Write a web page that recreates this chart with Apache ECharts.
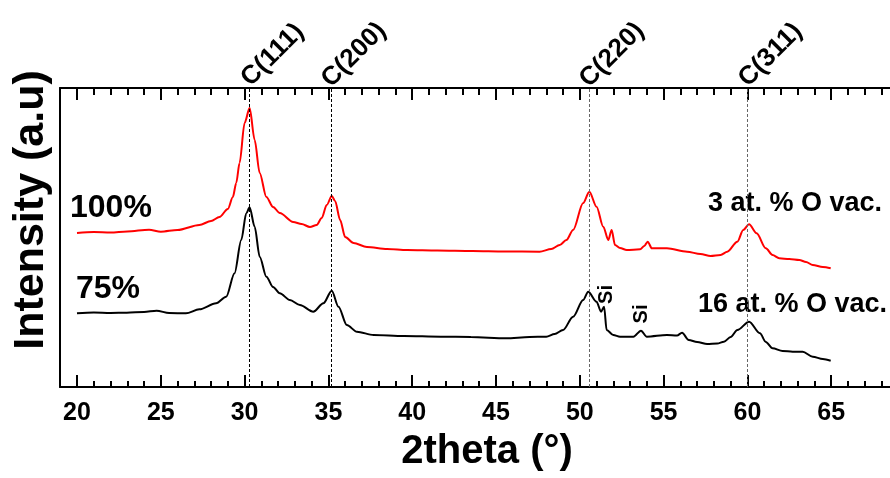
<!DOCTYPE html>
<html><head><meta charset="utf-8">
<script src="https://cdn.jsdelivr.net/npm/echarts@6/dist/echarts.min.js"></script>
<style>html,body{margin:0;padding:0;background:#fff}#c{width:890px;height:478px}</style>
</head><body><div id="c"></div>
<script>
// ---- data (intensity in arbitrary units) ----
const twoTheta100 = [20.0,21.0,22.0,23.0,24.3,25.0,26.0,27.3,28.0,28.5,29.0,29.3,29.5,29.7,30.0,30.3,30.6,30.9,31.3,31.7,32.1,32.9,33.4,33.9,34.3,34.6,34.9,35.2,35.4,35.7,36.0,36.5,37.3,38.5,39.7,41.5,43.6,45.5,47.6,48.3,48.8,49.2,49.6,50.2,50.57,51.0,51.4,51.7,51.9,52.1,52.4,52.8,53.6,53.85,54.05,54.3,55.2,56.4,57.2,57.8,58.4,58.8,59.4,59.75,60.1,60.55,61.1,61.5,61.9,62.5,63.1,63.5,63.9,64.5,64.97];
const intensity100 = [154,155,154.5,155.5,157.3,155.3,157,162,166,170,178,190,204,224,264,279,247,214,190,180,174,165,163,160,162,169,182,191,186,167,150,144,140,138,137,136.5,136,135.5,135.3,138,142,147,157,184,195.3,180.3,160.3,147,157,142,139,137,137.7,141,145.3,138.7,138.7,135.3,133,131,132,135.3,145.3,157,162.7,153.7,138.7,132,128.7,128,127,125,122,120,118.7];
const twoTheta75 = [20.0,21.0,22.0,22.97,24.0,24.75,25.5,26.5,27.3,28.3,28.9,29.4,29.8,30.1,30.3,30.6,30.9,31.3,31.7,32.1,32.7,33.3,34.1,34.7,35.2,35.6,36.1,36.7,37.7,39.5,41.7,43.5,45.6,47.0,48.0,48.5,49.0,49.6,50.2,50.5,51.0,51.27,51.45,51.6,52.0,52.4,53.2,53.65,54.0,55.2,55.8,56.1,56.5,57.0,57.6,58.2,58.6,59.0,59.4,60.1,60.75,61.1,61.5,62.1,62.7,63.3,63.9,64.5,64.97];
const intensity75 = [73.7,74.5,74,74.3,75,76.3,74,73.7,77.7,83.7,90.3,113.7,147,173.7,179.7,160.3,130.3,110.3,100,93.7,87,82,75.3,83.7,96.3,80.3,62,55.3,52,51,50.3,50,48.7,50,50.3,53,57,70.3,87,95.3,85.3,75.3,80.3,57,52,50.3,50.3,56.3,50.3,52,51.5,54.3,47,45,43,43.5,45.3,50,57,65.3,53.7,45,38.7,36,35.3,35.3,30.3,28,26.3];
const peakPositions = [30.3, 35.15, 50.55, 60.0];
const peakLabels = ['C(111)', 'C(200)', 'C(220)', 'C(311)'];
const siLabelPoints = [[51.6, 92.5], [53.7, 73]];
const siLabel = 'Si';
const sampleLabels = ['100%', '75%'];
const vacancyLabels = ['3 at. % O vac.', '16 at. % O vac.'];
const xAxisTitle = '2theta (°)';
const yAxisTitle = 'Intensity (a.u)';

// ---- chart ----
const FONT = '"Liberation Sans", Arial, Helvetica, sans-serif';
const chart = echarts.init(document.getElementById('c'), null, {renderer: 'canvas'});
const zip = (a, b) => a.map((v, i) => [v, b[i]]);
const peakLineColors = ['#000', '#000', '#666', '#666'];
const frameAxis = (pos) => ({
  gridIndex: 0, type: 'value', position: pos, min: 0, max: 1,
  axisLine: {show: true, onZero: false, lineStyle: {color: '#000', width: 2}},
  axisTick: {show: false}, axisLabel: {show: false}, splitLine: {show: false}
});
const dataAxis = (pos, labels, minorLen) => ({
  gridIndex: 1, type: 'value', position: pos, min: 20, max: 70, interval: 5,
  axisLine: {show: false, onZero: false},
  axisTick: {show: true, inside: true, length: 12, lineStyle: {color: '#000', width: 2}},
  minorTick: {show: true, splitNumber: 5, length: minorLen, lineStyle: {color: '#000', width: 2}},
  axisLabel: {show: labels, margin: 14, fontSize: 25, fontWeight: 'bold', color: '#000', fontFamily: FONT},
  splitLine: {show: false}, minorSplitLine: {show: false}
});

chart.setOption({
  animation: false,
  backgroundColor: '#fff',
  grid: [
    {left: 60, right: 0, top: 88, height: 299, outerBoundsMode: 'none', containLabel: false},
    {left: 77, width: 838, top: 88, height: 299, outerBoundsMode: 'none', containLabel: false}
  ],
  xAxis: [frameAxis('bottom'), frameAxis('top'), dataAxis('bottom', true, 6), dataAxis('top', false, 7)],
  yAxis: [
    {gridIndex: 0, type: 'value', min: 0, max: 1,
     axisLine: {show: true, onZero: false, lineStyle: {color: '#000', width: 2}},
     axisTick: {show: false}, axisLabel: {show: false}, splitLine: {show: false}},
    {gridIndex: 1, type: 'value', min: 0, max: 299, show: false}
  ],
  series: [
    {type: 'line', xAxisIndex: 2, yAxisIndex: 1, data: zip(twoTheta100, intensity100),
     symbol: 'none', smooth: 0.3, smoothMonotone: 'x',
     lineStyle: {color: '#ff0000', width: 2},
     markLine: {silent: true, symbol: ['none', 'none'], label: {show: false},
       data: peakPositions.map((p, i) => ({xAxis: p, lineStyle: {color: peakLineColors[i], type: [3, 2], width: 1}}))}},
    {type: 'line', xAxisIndex: 2, yAxisIndex: 1, data: zip(twoTheta75, intensity75),
     symbol: 'none', smooth: 0.3, smoothMonotone: 'x',
     lineStyle: {color: '#000', width: 2}}
  ]
});

const txt = (text, x, y, size, opts) => Object.assign({
  type: 'text', x: x, y: y, silent: true,
  style: Object.assign({text: text, fill: '#000', fontSize: size, fontWeight: 'bold', fontFamily: FONT,
    align: 'left', verticalAlign: 'middle'}, (opts && opts.style) || {})
}, opts && opts.rotation !== undefined ? {rotation: opts.rotation} : {});

const graphics = [];
peakPositions.forEach((p, i) => {
  const pt = chart.convertToPixel({gridIndex: 1}, [p, 299]);
  graphics.push(txt(peakLabels[i], pt[0] + 23, pt[1] - 33, 26, {rotation: Math.PI / 4, style: {align: 'center'}}));
});
siLabelPoints.forEach(sp => {
  const pt = chart.convertToPixel({gridIndex: 1}, sp);
  graphics.push(txt(siLabel, pt[0], pt[1], 20, {rotation: Math.PI / 2, style: {align: 'center'}}));
});
graphics.push(txt(sampleLabels[0], 70, 208, 32));
graphics.push(txt(sampleLabels[1], 76, 289, 32));
graphics.push(txt(vacancyLabels[0], 708, 204, 27));
graphics.push(txt(vacancyLabels[1], 698, 305, 27));
graphics.push(txt(xAxisTitle, 487, 452, 40, {style: {align: 'center'}}));
graphics.push(txt(yAxisTitle, 31, 210, 43, {rotation: Math.PI / 2, style: {align: 'center'}}));
chart.setOption({graphic: graphics});
</script>
</body></html>
